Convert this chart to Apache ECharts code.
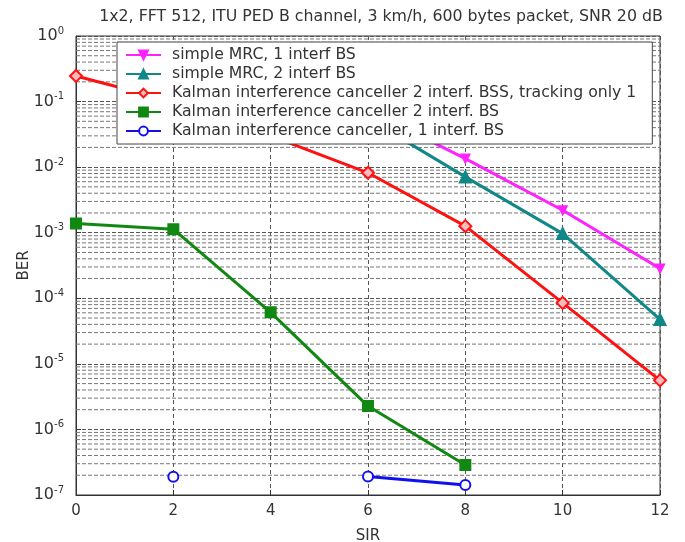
<!DOCTYPE html>
<html><head><meta charset="utf-8">
<script src="https://cdn.jsdelivr.net/npm/echarts@6/dist/echarts.min.js"></script>
<style>html,body{margin:0;padding:0;background:#fff}#c{width:685px;height:542px}</style>
</head><body><div id="c"></div>
<script>
// ---- data ----
const titleText = '1x2, FFT 512, ITU PED B channel, 3 km/h, 600 bytes packet, SNR 20 dB';
const sir = [0, 2, 4, 6, 8, 10, 12];
const mrc1 = [null, 0.4, 0.2, 0.075, 0.0135, 0.0022, 0.000285];
const mrc2 = [null, 0.42, 0.18, 0.055, 0.0071, 0.00097, 0.0000475];
const kalmanTrack1 = [0.246, 0.1, 0.03, 0.0082, 0.00126, 0.000085, 0.0000056];
const kalman2 = [0.00138, 0.00113, 0.000061, 0.00000227, 0.000000286, null, null];
const kalman1 = [null, 1.9e-7, null, 1.92e-7, 1.42e-7, null, null];
const seriesNames = [
  'simple MRC, 1 interf BS',
  'simple MRC, 2 interf BS',
  'Kalman interference canceller 2 interf. BSS, tracking only 1',
  'Kalman interference canceller 2 interf. BS',
  'Kalman interference canceller, 1 interf. BS'
];
const yDecades = [0, -1, -2, -3, -4, -5, -6, -7];
const minorMultipliers = [2, 3, 4, 5, 6, 7, 8, 9];

// ---- build ----
const pairs = arr => sir.map((x, i) => [x, arr[i] === null ? '-' : arr[i]]);
const gridData = [];
yDecades.slice(1).forEach(e => minorMultipliers.forEach(m => {
  const v = m * Math.pow(10, e);
  gridData.push([sir[0], v], [sir[sir.length - 1], v], [sir[sir.length - 1], '-']);
}));

const chart = echarts.init(document.getElementById('c'), null, { renderer: 'canvas' });
const fontFam = '"DejaVu Sans", sans-serif';

function mk(name, arr, color, symbol, size, fill, extra) {
  return Object.assign({
    name: name, type: 'line', data: pairs(arr), color: color,
    symbol: symbol, symbolSize: size, showSymbol: true, connectNulls: false,
    lineStyle: { color: color, width: 3 },
    itemStyle: { color: fill, borderColor: color, borderWidth: 2 },
    z: 3, animation: false
  }, extra || {});
}

const option = {
  animation: false,
  backgroundColor: '#fff',
  title: {
    text: titleText, left: 376, top: 4, textAlign: 'center',
    textStyle: { fontFamily: fontFam, fontSize: 15.8, fontWeight: 'normal', color: '#333' }
  },
  grid: {
    left: 76, right: 25, top: 36, bottom: 47, containLabel: false, outerBoundsMode: 'none',
    show: true, borderColor: '#333', borderWidth: 1, backgroundColor: 'transparent'
  },
  legend: {
    data: seriesNames, orient: 'vertical', left: 117, top: 42,
    backgroundColor: '#fff', borderColor: '#444', borderWidth: 1,
    padding: [5, 16, 5, 8], itemGap: 3, itemWidth: 35, itemHeight: 11,
    textStyle: { fontFamily: fontFam, fontSize: 15.7, color: '#333', padding: [0, 0, 0, 6] },
    z: 10
  },
  xAxis: {
    type: 'value', min: 0, max: 12, interval: 2,
    name: 'SIR', nameLocation: 'middle', nameGap: 34, nameMoveOverlap: false,
    nameTextStyle: { fontFamily: fontFam, fontSize: 15, color: '#333' },
    axisLine: { show: true, lineStyle: { color: '#333', width: 1 } },
    axisTick: { show: true, inside: true, length: 5, lineStyle: { color: '#333' } },
    axisLabel: { fontFamily: fontFam, fontSize: 15, color: '#333', margin: 9 },
    splitLine: { show: true, lineStyle: { color: '#555', type: [4, 3], width: 1 } }
  },
  yAxis: {
    type: 'log', logBase: 10, min: 1e-7, max: 1, interval: 1,
    name: 'BER', nameLocation: 'middle', nameGap: 44, nameMoveOverlap: false,
    nameTextStyle: { fontFamily: fontFam, fontSize: 15, color: '#333' },
    axisLine: { show: true, lineStyle: { color: '#333', width: 1 } },
    axisTick: { show: true, inside: true, length: 5, lineStyle: { color: '#333' } },
    axisLabel: {
      margin: 12, color: '#333',
      formatter: function (v) {
        const e = Math.round(Math.log10(v));
        return '{b|10}{s|' + (e === 0 ? '0' : '-' + Math.abs(e)) + '}';
      },
      rich: {
        b: { fontFamily: fontFam, fontSize: 16, color: '#333' },
        s: { fontFamily: fontFam, fontSize: 10, color: '#333', verticalAlign: 'top', padding: [0, 0, 10, 0] }
      }
    },
    splitLine: { show: true, lineStyle: { color: '#555', type: [4, 2], width: 1 } }
  },
  series: [
    {
      name: 'grid-minor', type: 'line', data: gridData, silent: true, z: 1,
      symbol: 'none', showSymbol: false, connectNulls: false,
      lineStyle: { color: '#777', type: [4, 2], width: 1 },
      animation: false, tooltip: { show: false }
    },
    mk(seriesNames[0], mrc1, '#ff22ff', 'triangle', 8, '#ff22ff', { symbolRotate: 180 }),
    mk(seriesNames[1], mrc2, '#118888', 'triangle', 11, '#118888'),
    mk(seriesNames[2], kalmanTrack1, '#ff1111', 'diamond', 12, '#ffbbbb'),
    mk(seriesNames[3], kalman2, '#118811', 'rect', 10, '#118811'),
    mk(seriesNames[4], kalman1, '#1111ee', 'circle', 10, '#ffffff')
  ]
};
chart.setOption(option);
</script></body></html>
